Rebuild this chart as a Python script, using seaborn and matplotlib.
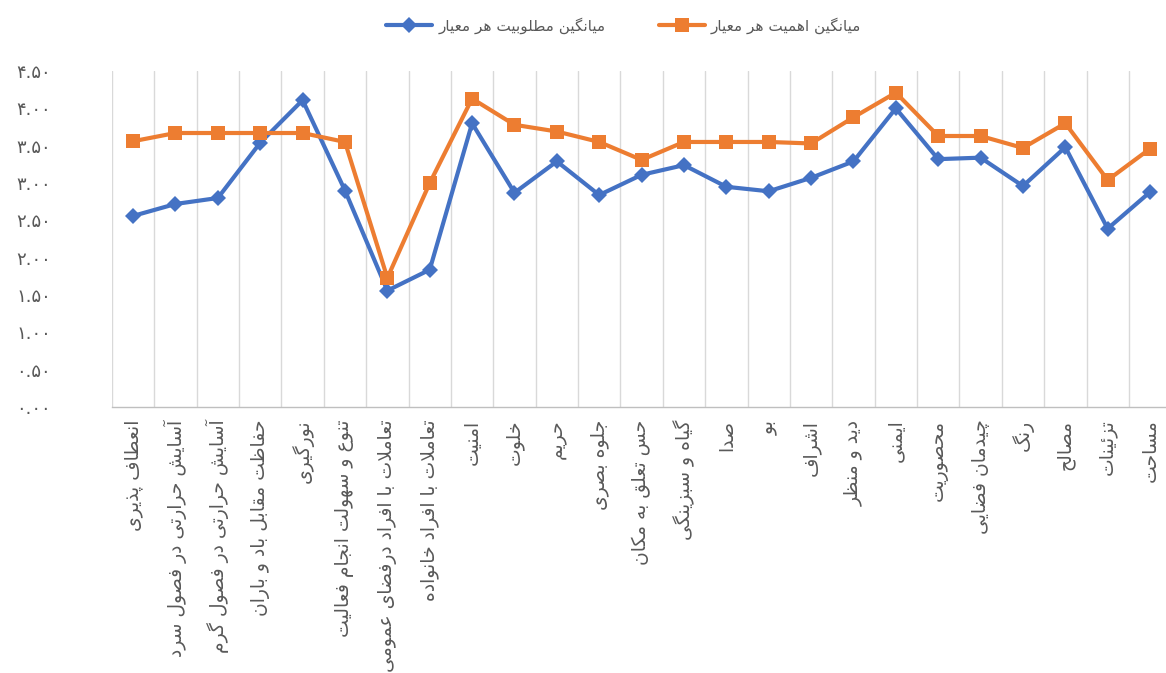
import matplotlib
matplotlib.use('Agg')
import matplotlib.pyplot as plt
import seaborn as sns
import numpy as np
from matplotlib import font_manager, ft2font

# criteria (left to right)
criteria = ['انعطاف پذیری', 'آسایش حرارتی در فصول سرد', 'آسایش حرارتی در فصول گرم',
            'حفاظت مقابل باد و باران', 'نورگیری', 'تنوع و سهولت انجام فعالیت',
            'تعاملات با افراد درفضای عمومی', 'تعاملات با افراد خانواده', 'امنیت',
            'خلوت', 'حریم', 'جلوه بصری', 'حس تعلق به مکان', 'گیاه و سبزینگی',
            'صدا', 'بو', 'اشراف', 'دید و منظر', 'ایمنی', 'محصوریت',
            'چیدمان فضایی', 'رنگ', 'مصالح', 'تزئینات', 'مساحت']

desirability = [2.56, 2.72, 2.80, 3.54, 4.11, 2.90, 1.56, 1.84, 3.80, 2.87,
                3.29, 2.84, 3.11, 3.24, 2.95, 2.89, 3.07, 3.29, 4.00, 3.32,
                3.34, 2.96, 3.48, 2.39, 2.88]
importance = [3.56, 3.67, 3.67, 3.67, 3.67, 3.55, 1.73, 3.00, 4.13, 3.78,
              3.69, 3.55, 3.31, 3.55, 3.55, 3.55, 3.53, 3.88, 4.21, 3.63,
              3.63, 3.47, 3.80, 3.04, 3.46]

label_desir = 'میانگین مطلوبیت هر معیار'
label_imp = 'میانگین اهمیت هر معیار'
yticks = [0.0, 0.5, 1.0, 1.5, 2.0, 2.5, 3.0, 3.5, 4.0, 4.5]

# --- minimal persian shaping (matplotlib has no RTL layout) ---
FORMS = {
    'آ': (0xFE81, 0xFE82, None, None), 'ا': (0xFE8D, 0xFE8E, None, None),
    'ب': (0xFE8F, 0xFE90, 0xFE91, 0xFE92), 'پ': (0xFB56, 0xFB57, 0xFB58, 0xFB59),
    'ت': (0xFE95, 0xFE96, 0xFE97, 0xFE98), 'ث': (0xFE99, 0xFE9A, 0xFE9B, 0xFE9C),
    'ج': (0xFE9D, 0xFE9E, 0xFE9F, 0xFEA0), 'چ': (0xFB7A, 0xFB7B, 0xFB7C, 0xFB7D),
    'ح': (0xFEA1, 0xFEA2, 0xFEA3, 0xFEA4), 'خ': (0xFEA5, 0xFEA6, 0xFEA7, 0xFEA8),
    'د': (0xFEA9, 0xFEAA, None, None), 'ذ': (0xFEAB, 0xFEAC, None, None),
    'ر': (0xFEAD, 0xFEAE, None, None), 'ز': (0xFEAF, 0xFEB0, None, None),
    'ژ': (0xFB8A, 0xFB8B, None, None),
    'س': (0xFEB1, 0xFEB2, 0xFEB3, 0xFEB4), 'ش': (0xFEB5, 0xFEB6, 0xFEB7, 0xFEB8),
    'ص': (0xFEB9, 0xFEBA, 0xFEBB, 0xFEBC), 'ض': (0xFEBD, 0xFEBE, 0xFEBF, 0xFEC0),
    'ط': (0xFEC1, 0xFEC2, 0xFEC3, 0xFEC4), 'ظ': (0xFEC5, 0xFEC6, 0xFEC7, 0xFEC8),
    'ع': (0xFEC9, 0xFECA, 0xFECB, 0xFECC), 'غ': (0xFECD, 0xFECE, 0xFECF, 0xFED0),
    'ف': (0xFED1, 0xFED2, 0xFED3, 0xFED4), 'ق': (0xFED5, 0xFED6, 0xFED7, 0xFED8),
    'ک': (0xFB8E, 0xFB8F, 0xFB90, 0xFB91), 'گ': (0xFB92, 0xFB93, 0xFB94, 0xFB95),
    'ل': (0xFEDD, 0xFEDE, 0xFEDF, 0xFEE0), 'م': (0xFEE1, 0xFEE2, 0xFEE3, 0xFEE4),
    'ن': (0xFEE5, 0xFEE6, 0xFEE7, 0xFEE8), 'و': (0xFEED, 0xFEEE, None, None),
    'ه': (0xFEE9, 0xFEEA, 0xFEEB, 0xFEEC), 'ی': (0xFBFC, 0xFBFD, 0xFBFE, 0xFBFF),
    'ئ': (0xFE89, 0xFE8A, 0xFE8B, 0xFE8C),
}
LAM_ALEF = {'ا': (0xFEFB, 0xFEFC), 'آ': (0xFEF5, 0xFEF6)}

_path = font_manager.findfont('DejaVu Sans')
_cmap = ft2font.FT2Font(_path).get_charmap()


def _glyph(code, base):
    return chr(code) if code is not None and code in _cmap else base


def shape(text):
    chars = list(text)
    out = []
    i = 0
    while i < len(chars):
        c = chars[i]
        if c not in FORMS:
            out.append(c)
            i += 1
            continue
        prev = chars[i - 1] if i > 0 else None
        join_prev = prev in FORMS and FORMS[prev][2] is not None
        nxt = chars[i + 1] if i + 1 < len(chars) else None
        if c == 'ل' and nxt in LAM_ALEF:
            iso, fin = LAM_ALEF[nxt]
            out.append(_glyph(fin if join_prev else iso, 'ل' + nxt))
            i += 2
            continue
        join_next = FORMS[c][2] is not None and nxt in FORMS
        iso, fin, ini, med = FORMS[c]
        if join_prev and join_next:
            g = med
        elif join_prev:
            g = fin
        elif join_next:
            g = ini
        else:
            g = iso
        out.append(_glyph(g, c))
        i += 1
    return ''.join(reversed(out))


def fa_digits(s):
    return s.translate(str.maketrans('0123456789', '۰۱۲۳۴۵۶۷۸۹'))


sns.set_style('white')
plt.rcParams['font.family'] = ['DejaVu Sans']

grey = '#595959'
fig = plt.figure(figsize=(11.66, 6.73), dpi=100)
ax = fig.add_axes([0.096, 0.395, 0.9085, 0.4995])

x_labels = [shape(c) for c in criteria]
sns.lineplot(x=x_labels, y=desirability, sort=False, color='#4472C4', lw=3,
             marker='D', markersize=8.5, markeredgewidth=0, ax=ax, label=shape(label_desir))
sns.lineplot(x=x_labels, y=importance, sort=False, color='#ED7D31', lw=3,
             marker='s', markersize=9.5, markeredgewidth=0, ax=ax, label=shape(label_imp))

ax.set_xlim(-0.5, len(criteria) - 0.5)
ax.set_ylim(0, 4.5)
ax.set_yticks(yticks)
ax.set_yticklabels([fa_digits(f'{v:.2f}') for v in yticks], color=grey, fontsize=13)
ax.set_xticks(range(len(criteria)))
ax.set_xticklabels(x_labels, rotation=90, va='top', ha='center', color=grey, fontsize=13.5)
ax.set_xticks(np.arange(-0.5, len(criteria)), minor=True)
ax.tick_params(axis='y', length=0, pad=44)
ax.tick_params(axis='x', which='both', length=0, pad=9)
ax.grid(False)
ax.grid(which='minor', axis='x', color='#d9d9d9', lw=1)
ax.set_xlabel('')
ax.set_ylabel('')
for s in ['top', 'right', 'left']:
    ax.spines[s].set_visible(False)
ax.spines['bottom'].set_color('#bfbfbf')
ax.spines['bottom'].set_linewidth(1)

handles, labels = ax.get_legend_handles_labels()
ax.get_legend().remove()
leg = fig.legend(handles, labels, loc='center', bbox_to_anchor=(0.535, 0.962), ncol=2,
                 frameon=False, fontsize=11, handlelength=3, handletextpad=0.4,
                 columnspacing=3.5)
for t in leg.get_texts():
    t.set_color(grey)

fig.savefig('out.png', dpi=100)
